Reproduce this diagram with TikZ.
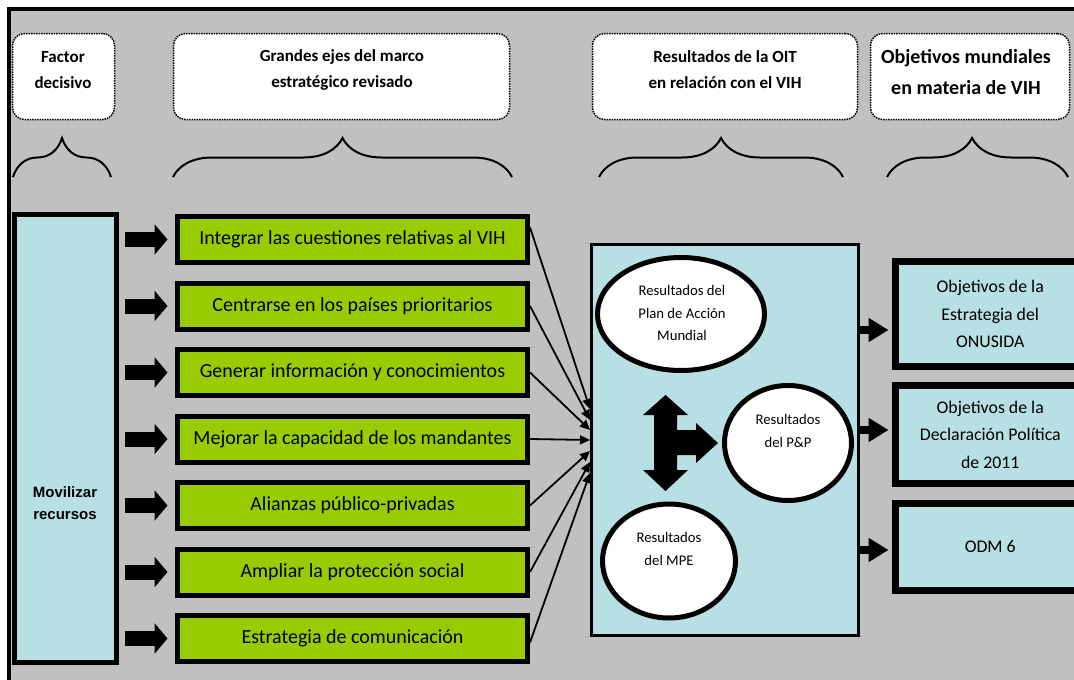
\documentclass[tikz,border=0pt]{standalone}
\usepackage{fontspec}
\setmainfont{Carlito}
\newfontfamily\arialfont{Liberation Sans}
\usetikzlibrary{shapes.geometric,decorations.pathreplacing,arrows.meta,calc}
\definecolor{bggray}{RGB}{192,192,192}
\definecolor{lblue}{RGB}{184,223,227}
\definecolor{lgreen}{RGB}{153,204,0}
\begin{document}
\begin{tikzpicture}[x=1pt,y=-1pt,
  hdrbox/.style={draw, densely dotted, line width=1.5pt, fill=white, rounded corners=12pt, inner sep=0pt},
  hdrtext/.style={font=\bfseries\fontsize{17}{26}\selectfont, align=center, inner sep=0pt},
  brc/.style={decorate, decoration={brace, amplitude=39pt}, line width=2pt},
  greenbox/.style={draw, line width=5pt, fill=lgreen, minimum width=350pt, minimum height=46pt, inner sep=0pt, font=\fontsize{20}{24}\selectfont},
  blockarrow/.style={line width=15pt, -{Triangle[length=13pt,width=30pt]}},
  thinarrow/.style={line width=1.8pt, -{Triangle[length=10pt,width=9pt]}},
  ell/.style={ellipse, draw, line width=5pt, fill=white, inner sep=0pt},
  elltext/.style={font=\fontsize{14.7}{22.5}\selectfont, align=center, inner sep=0pt},
  bluebox/.style={draw, line width=7pt, fill=lblue, inner sep=0pt, font=\fontsize{17.8}{27.5}\selectfont, align=center},
  rarrow/.style={line width=8pt, -{Triangle[length=20pt,width=23pt]}}
]
\useasboundingbox (0,0) rectangle (1074,680);
\clip (0,0) rectangle (1074,680);
\fill[white] (0,0) rectangle (1074,680);
\fill[bggray] (9,9) rectangle (1090,700);
\draw[line width=4pt] (9,700) -- (9,9) -- (1090,9);

% headers
\node[hdrbox, minimum width=102pt, minimum height=86pt] (h1) at (63.5,76.5) {};
\node[hdrbox, minimum width=336pt, minimum height=86pt] (h2) at (341.5,76.5) {};
\node[hdrbox, minimum width=265pt, minimum height=86pt] (h3) at (725,76.5) {};
\node[hdrbox, minimum width=199pt, minimum height=86pt] (h4) at (970,76.5) {};
\node[hdrtext] (t1) at (63,70) {Factor\\decisivo};
\node[hdrtext] (t2) at (342,70) {Grandes ejes del marco\\estratégico revisado};
\node[hdrtext] (t3) at (725,70) {Resultados de la OIT\\en relación con el VIH};
\node[hdrtext, font=\bfseries\fontsize{20}{31}\selectfont] (t4) at (966,72.5) {Objetivos mundiales\\en materia de VIH};

% braces
\draw[brc] (13,177) -- (111,177);
\draw[brc] (173,177) -- (512,177);
\draw[brc] (599,177) -- (843,177);
\draw[brc, decoration={brace, amplitude=39pt, aspect=0.47}] (887,177) -- (1068,177);

% left box
\node[draw, line width=5pt, fill=lblue, minimum width=102pt, minimum height=448pt, inner sep=0pt] (L) at (65.5,438.5) {};
\node[font=\arialfont\bfseries\fontsize{15}{22}\selectfont, align=center, inner sep=0pt] (Lt) at (65,503) {Movilizar\\recursos};

% green boxes
\node[greenbox] (g1) at (352.5,239.5) {Integrar las cuestiones relativas al VIH};
\node[greenbox] (g2) at (352.5,306) {Centrarse en los países prioritarios};
\node[greenbox] (g3) at (352.5,372.5) {Generar información y conocimientos};
\node[greenbox] (g4) at (352.5,439) {Mejorar la capacidad de los mandantes};
\node[greenbox] (g5) at (352.5,505.5) {Alianzas público-privadas};
\node[greenbox] (g6) at (352.5,572) {Ampliar la protección social};
\node[greenbox] (g7) at (352.5,638.5) {Estrategia de comunicación};

\foreach \i in {1,...,7}{
  \draw[blockarrow, shorten <=5.5pt, shorten >=7.5pt] (L.east |- g\i.center) -- (g\i.west);
}

% central box
\node[draw, line width=3pt, fill=lblue, minimum width=267pt, minimum height=391pt, inner sep=0pt] (C) at (725,440) {};

% converging lines
\coordinate (e1) at (590,409);
\coordinate (e2) at (590,420);
\coordinate (e3) at (590,430);
\coordinate (e4) at (590,440);
\coordinate (e5) at (590,451);
\coordinate (e6) at (590,462);
\coordinate (e7) at (590,473);
\draw[thinarrow] ([yshift=12pt]g1.east) -- (e1);
\draw[thinarrow] (g2.east) -- (e2);
\draw[thinarrow] (g3.east) -- (e3);
\draw[thinarrow] (g4.east) -- (e4);
\draw[thinarrow] (g5.east) -- (e5);
\draw[thinarrow] (g6.east) -- (e6);
\draw[thinarrow] ([yshift=-4pt]g7.east) -- (e7);

% ellipses
\node[ell, minimum width=167pt, minimum height=113pt] (E1) at (681,314) {};
\node[ell, minimum width=127pt, minimum height=115pt] (E2) at (788,443) {};
\node[ell, minimum width=133pt, minimum height=114pt] (E3) at (669,561) {};
\node[elltext] (E1t) at (682,313) {Resultados del\\Plan de Acción\\Mundial};
\node[elltext] (E2t) at (788,431) {Resultados\\del P\&P};
\node[elltext] (E3t) at (669,549) {Resultados\\del MPE};

% T-shaped arrow
\fill[black] (665.5,395) -- (688,415) -- (677,415) -- (677,430) -- (696,430) -- (696,423)
  -- (718,443) -- (696,463) -- (696,455) -- (677,455) -- (677,470) -- (688,470)
  -- (665.5,491) -- (643,470) -- (654,470) -- (654,415) -- (643,415) -- cycle;

% right boxes
\node[bluebox, minimum width=189.5pt, minimum height=105pt] (R1) at (990.25,314) {Objetivos de la\\Estrategia del\\ONUSIDA};
\node[bluebox, minimum width=189.5pt, minimum height=98pt] (R2) at (990.25,434.5) {Objetivos de la\\Declaración Política\\de 2011};
\node[bluebox, minimum width=189.5pt, minimum height=87pt] (R3) at (990.25,547) {ODM 6};

\path (0,330) coordinate (y1) (0,430) coordinate (y2) (0,550) coordinate (y3);
\draw[rarrow, shorten >=3.5pt] (C.east |- y1) -- (R1.west |- y1);
\draw[rarrow, shorten >=3.5pt] (C.east |- y2) -- (R2.west |- y2);
\draw[rarrow, shorten >=3.5pt] (C.east |- y3) -- (R3.west |- y3);
\end{tikzpicture}
\end{document}
